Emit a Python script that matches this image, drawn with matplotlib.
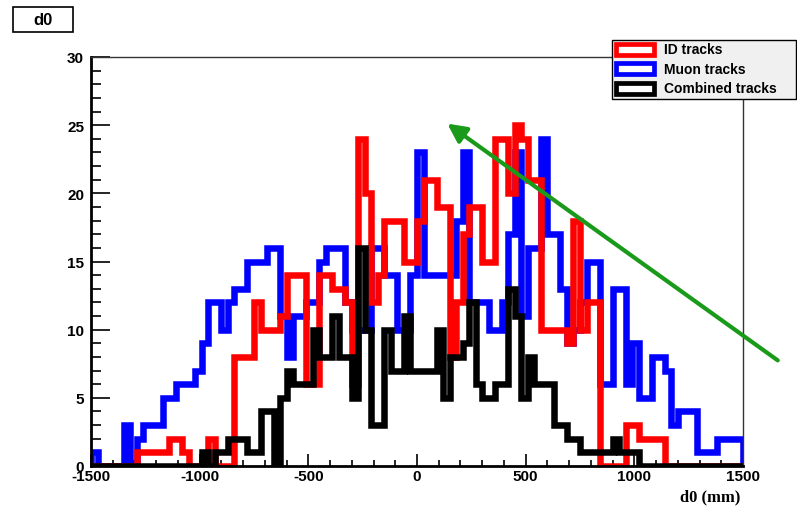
import numpy as np
import matplotlib
matplotlib.use("Agg")
import matplotlib.pyplot as plt
from matplotlib.patches import Rectangle, FancyArrowPatch
from matplotlib.ticker import MultipleLocator

# ---- data (100 bins from -1500 to 1500 mm) ----
x_min, x_max, n_bins = -1500, 1500, 100
id_tracks = [0, 0, 0, 0, 0, 0, 0, 1, 1, 1,
             1, 1, 2, 2, 1, 0, 0, 0, 2, 0,
             0, 0, 8, 8, 8, 12, 10, 10, 10, 11,
             14, 14, 14, 6, 6, 14, 14, 13, 13, 12,
             6, 24, 20, 12, 14, 18, 18, 18, 15, 15,
             18, 21, 21, 19, 19, 8, 12, 17, 19, 19,
             15, 15, 24, 24, 20, 25, 24, 21, 21, 10,
             10, 10, 10, 9, 18, 10, 12, 12, 0, 0,
             0, 0, 3, 3, 2, 2, 2, 2, 0, 0,
             0, 0, 0, 0, 0, 0, 0, 0, 0, 0]
muon_tracks = [1, 0, 0, 0, 0, 3, 0, 2, 3, 3,
               3, 5, 5, 6, 6, 6, 7, 9, 12, 12,
               10, 12, 13, 13, 15, 15, 15, 16, 16, 11,
               8, 11, 11, 12, 12, 15, 16, 16, 16, 12,
               10, 10, 10, 16, 16, 14, 14, 10, 10, 14,
               23, 14, 14, 14, 14, 14, 18, 23, 12, 12,
               12, 10, 10, 12, 17, 23, 11, 16, 16, 24,
               17, 17, 13, 9, 10, 12, 15, 15, 6, 6,
               13, 13, 6, 9, 5, 5, 8, 8, 7, 3,
               4, 4, 4, 1, 1, 1, 2, 2, 2, 2]
combined_tracks = [0, 0, 0, 0, 0, 0, 0, 0, 0, 0,
                   0, 0, 0, 0, 0, 0, 0, 1, 0, 1,
                   1, 2, 2, 2, 1, 1, 4, 4, 0, 5,
                   7, 6, 6, 6, 10, 8, 8, 11, 8, 8,
                   5, 16, 10, 3, 3, 10, 7, 7, 11, 7,
                   7, 7, 7, 10, 5, 8, 8, 9, 12, 6,
                   5, 5, 6, 6, 13, 11, 5, 8, 6, 6,
                   6, 3, 3, 2, 2, 1, 1, 1, 1, 1,
                   2, 1, 1, 1, 0, 0, 0, 0, 0, 0,
                   0, 0, 0, 0, 0, 0, 0, 0, 0, 0]
labels = ["ID tracks", "Muon tracks", "Combined tracks"]
colors = ["#ff0000", "#0000ff", "#000000"]
x_ticks = [-1500, -1000, -500, 0, 500, 1000, 1500]
y_ticks = [0, 5, 10, 15, 20, 25, 30]

edges = np.linspace(x_min, x_max, n_bins + 1)

W, H = 797, 510
fig = plt.figure(figsize=(W / 100, H / 100), dpi=100)
fig.patch.set_facecolor("white")

L, R, T, B = 91, 743, 58, 467
ax = fig.add_axes([L / W, 1 - B / H, (R - L) / W, (B - T) / H])

lw = 4.7
ax.stairs(muon_tracks, edges, color=colors[1], linewidth=lw, baseline=0, zorder=2)
ax.stairs(id_tracks, edges, color=colors[0], linewidth=lw, baseline=0, zorder=3)
ax.stairs(combined_tracks, edges, color=colors[2], linewidth=lw, baseline=0, zorder=4)

ax.set_xlim(x_min, x_max)
ax.set_ylim(0, 30)
ax.set_xticks(x_ticks)
ax.set_yticks(y_ticks)
ax.xaxis.set_minor_locator(MultipleLocator(100))
ax.yaxis.set_minor_locator(MultipleLocator(1))

font_tick = dict(family="Liberation Sans", weight="bold", size=11)
ax.set_xticklabels([str(v) for v in x_ticks], **font_tick)
ax.set_yticklabels([str(v) for v in y_ticks], **font_tick)

ax.tick_params(axis="y", which="major", direction="in", length=14, width=1.2, pad=5)
ax.tick_params(axis="y", which="minor", direction="in", length=7, width=1.2)
ax.tick_params(axis="x", which="major", direction="in", length=8.5, width=1.2, pad=2)
ax.tick_params(axis="x", which="minor", direction="in", length=4.3, width=1.2)

for s in ["left", "bottom"]:
    ax.spines[s].set_linewidth(2.0)
for s in ["top", "right"]:
    ax.spines[s].set_linewidth(1.0)
    ax.spines[s].set_color("#333333")
for sp in ax.spines.values():
    sp.set_zorder(6)

# x-axis title
fig.text(740 / W, 1 - 497 / H, "d0 (mm)", ha="right", va="center",
         family="Liberation Serif", weight="bold", size=12)

# title box
fig.patches.append(Rectangle((13 / W, 1 - 33 / H), 60 / W, 25 / H,
                             transform=fig.transFigure, facecolor="white",
                             edgecolor="black", linewidth=1.2))
fig.text(43 / W, 1 - 20.5 / H, "d0", ha="center", va="center",
         family="Liberation Sans", weight="bold", size=12)

# legend box
lx0, ly0, lx1, ly1 = 612, 41, 796, 100
fig.patches.append(Rectangle((lx0 / W, 1 - ly1 / H), (lx1 - lx0) / W, (ly1 - ly0) / H,
                             transform=fig.transFigure, facecolor="#f0f0f0",
                             edgecolor="black", linewidth=1.0, zorder=10))
entry_y = [50, 69.5, 89]
for lab, col, yy in zip(labels, colors, entry_y):
    fig.patches.append(Rectangle((616 / W, 1 - (yy + 5.5) / H), 38 / W, 11 / H,
                                 transform=fig.transFigure, facecolor="white",
                                 edgecolor=col, linewidth=3.4, zorder=11))
    fig.text(664 / W, 1 - yy / H, lab, ha="left", va="center",
             family="Liberation Sans", weight="bold", size=10, zorder=12)

# green arrow annotation
arrow = FancyArrowPatch((780 / W, 1 - 363 / H), (445 / W, 1 - 123 / H),
                        transform=fig.transFigure, arrowstyle="-|>",
                        mutation_scale=28, linewidth=3, color="#1a9a1a", zorder=20)
fig.patches.append(arrow)

fig.savefig("out.png", dpi=100)
